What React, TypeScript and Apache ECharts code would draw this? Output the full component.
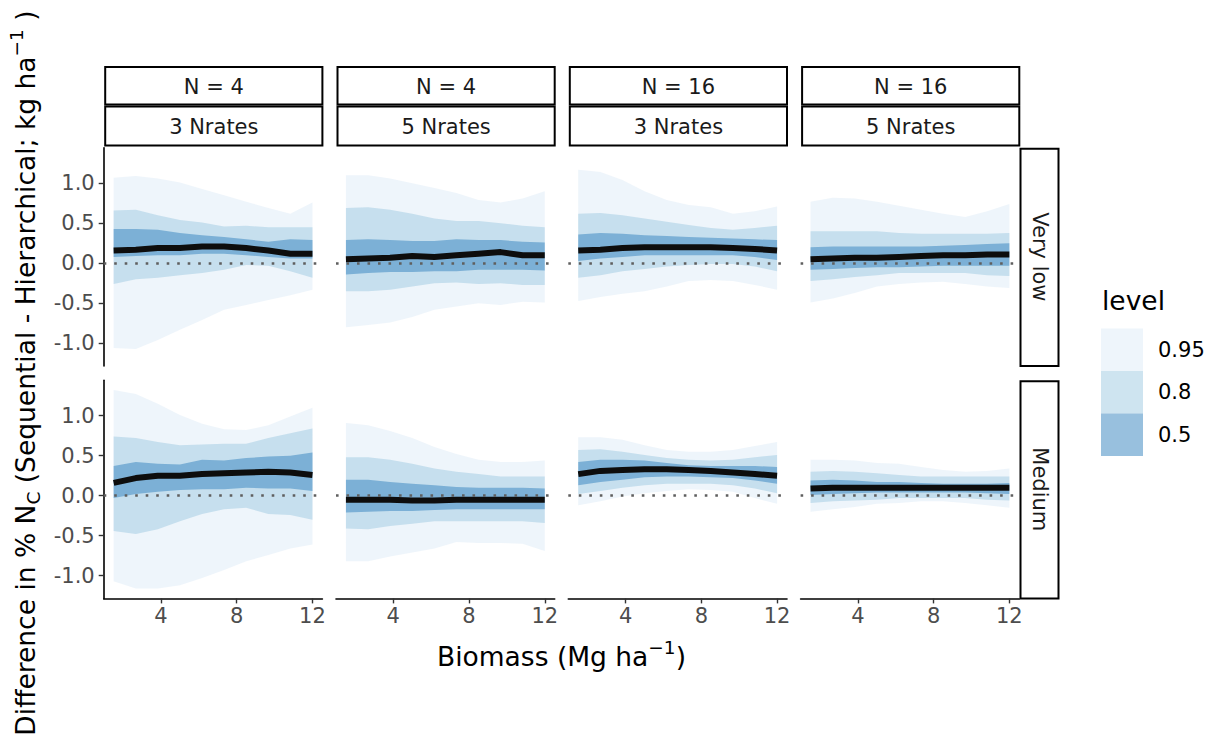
import React, { useEffect, useRef } from "react";
import * as echarts from "echarts";

// ---------- data ----------
const X = [1.5, 2.67, 3.83, 5, 6.17, 7.33, 8.5, 9.67, 10.83, 12];
const X_TICKS = [4, 8, 12];
const Y_TICKS = [-1, -0.5, 0, 0.5, 1];
const X_MIN = 0.975;
const X_MAX = 12.525;
const Y_MIN = -1.284;
const Y_MAX = 1.444;

const STRIP_N = ["N = 4", "N = 4", "N = 16", "N = 16"];
const STRIP_RATES = ["3 Nrates", "5 Nrates", "3 Nrates", "5 Nrates"];
const STRIP_ROWS = ["Very low", "Medium"];
const LEVELS = ["0.95", "0.8", "0.5"];

// Very low, N = 4, 3 Nrates
const P1_HI95 = [1.07, 1.09, 1.06, 1.01, 0.93, 0.85, 0.77, 0.69, 0.62, 0.76];
const P1_LO95 = [-1.06, -1.07, -0.96, -0.83, -0.71, -0.58, -0.52, -0.46, -0.4, -0.33];
const P1_HI80 = [0.66, 0.67, 0.6, 0.54, 0.51, 0.46, 0.47, 0.45, 0.45, 0.45];
const P1_LO80 = [-0.26, -0.2, -0.18, -0.15, -0.12, -0.08, -0.02, -0.03, -0.1, -0.18];
const P1_HI50 = [0.43, 0.43, 0.42, 0.38, 0.35, 0.33, 0.3, 0.27, 0.3, 0.29];
const P1_LO50 = [0.08, 0.09, 0.1, 0.1, 0.12, 0.12, 0.1, 0.08, 0.06, 0.06];
const P1_MED = [0.16, 0.17, 0.19, 0.19, 0.21, 0.21, 0.19, 0.16, 0.12, 0.12];

// Very low, N = 4, 5 Nrates
const P2_HI95 = [1.1, 1.1, 1.06, 1.0, 0.94, 0.88, 0.79, 0.76, 0.81, 0.9];
const P2_LO95 = [-0.8, -0.77, -0.74, -0.67, -0.58, -0.54, -0.5, -0.52, -0.48, -0.49];
const P2_HI80 = [0.69, 0.7, 0.67, 0.62, 0.56, 0.53, 0.53, 0.5, 0.47, 0.45];
const P2_LO80 = [-0.35, -0.35, -0.33, -0.29, -0.25, -0.24, -0.26, -0.25, -0.27, -0.27];
const P2_HI50 = [0.29, 0.3, 0.29, 0.28, 0.28, 0.3, 0.29, 0.29, 0.27, 0.26];
const P2_LO50 = [-0.14, -0.12, -0.11, -0.11, -0.1, -0.1, -0.08, -0.08, -0.08, -0.09];
const P2_MED = [0.05, 0.06, 0.07, 0.09, 0.08, 0.1, 0.12, 0.14, 0.1, 0.1];

// Very low, N = 16, 3 Nrates
const P3_HI95 = [1.17, 1.14, 1.04, 0.9, 0.79, 0.73, 0.7, 0.62, 0.65, 0.71];
const P3_LO95 = [-0.47, -0.42, -0.38, -0.35, -0.29, -0.22, -0.21, -0.22, -0.27, -0.33];
const P3_HI80 = [0.62, 0.63, 0.6, 0.56, 0.52, 0.48, 0.44, 0.42, 0.44, 0.47];
const P3_LO80 = [-0.18, -0.15, -0.1, -0.07, -0.04, -0.02, -0.01, -0.01, -0.04, -0.1];
const P3_HI50 = [0.36, 0.38, 0.37, 0.35, 0.34, 0.33, 0.32, 0.31, 0.3, 0.29];
const P3_LO50 = [0.03, 0.06, 0.08, 0.1, 0.1, 0.1, 0.1, 0.1, 0.08, 0.04];
const P3_MED = [0.16, 0.17, 0.19, 0.2, 0.2, 0.2, 0.2, 0.19, 0.18, 0.16];

// Very low, N = 16, 5 Nrates
const P4_HI95 = [0.77, 0.82, 0.81, 0.77, 0.72, 0.67, 0.62, 0.58, 0.65, 0.74];
const P4_LO95 = [-0.49, -0.44, -0.37, -0.29, -0.26, -0.24, -0.23, -0.26, -0.29, -0.31];
const P4_HI80 = [0.4, 0.4, 0.4, 0.4, 0.38, 0.37, 0.37, 0.37, 0.37, 0.38];
const P4_LO80 = [-0.22, -0.2, -0.17, -0.15, -0.12, -0.12, -0.12, -0.12, -0.15, -0.16];
const P4_HI50 = [0.2, 0.21, 0.21, 0.21, 0.21, 0.21, 0.22, 0.23, 0.24, 0.25];
const P4_LO50 = [-0.08, -0.07, -0.06, -0.05, -0.05, -0.04, -0.03, -0.03, -0.03, -0.03];
const P4_MED = [0.05, 0.06, 0.07, 0.07, 0.08, 0.09, 0.1, 0.1, 0.11, 0.11];

// Medium, N = 4, 3 Nrates
const P5_HI95 = [1.32, 1.27, 1.15, 1.01, 0.9, 0.83, 0.82, 0.88, 0.99, 1.1];
const P5_LO95 = [-1.07, -1.16, -1.16, -1.12, -1.03, -0.93, -0.82, -0.74, -0.66, -0.61];
const P5_HI80 = [0.74, 0.72, 0.67, 0.63, 0.64, 0.65, 0.65, 0.72, 0.78, 0.84];
const P5_LO80 = [-0.44, -0.48, -0.42, -0.32, -0.23, -0.17, -0.15, -0.23, -0.24, -0.3];
const P5_HI50 = [0.37, 0.42, 0.4, 0.39, 0.45, 0.44, 0.47, 0.49, 0.5, 0.54];
const P5_LO50 = [-0.03, 0.02, 0.05, 0.07, 0.08, 0.08, 0.1, 0.09, 0.09, 0.06];
const P5_MED = [0.16, 0.22, 0.25, 0.25, 0.27, 0.28, 0.29, 0.3, 0.29, 0.26];

// Medium, N = 4, 5 Nrates
const P6_HI95 = [0.91, 0.88, 0.81, 0.72, 0.61, 0.52, 0.45, 0.42, 0.42, 0.44];
const P6_LO95 = [-0.82, -0.82, -0.76, -0.71, -0.66, -0.58, -0.59, -0.59, -0.6, -0.69];
const P6_HI80 = [0.48, 0.48, 0.45, 0.4, 0.34, 0.3, 0.27, 0.24, 0.24, 0.24];
const P6_LO80 = [-0.41, -0.42, -0.38, -0.35, -0.32, -0.32, -0.32, -0.32, -0.32, -0.34];
const P6_HI50 = [0.2, 0.2, 0.17, 0.15, 0.13, 0.11, 0.1, 0.1, 0.1, 0.09];
const P6_LO50 = [-0.21, -0.2, -0.19, -0.19, -0.18, -0.17, -0.17, -0.17, -0.17, -0.17];
const P6_MED = [-0.05, -0.05, -0.05, -0.06, -0.06, -0.05, -0.05, -0.05, -0.05, -0.05];

// Medium, N = 16, 3 Nrates
const P7_HI95 = [0.73, 0.73, 0.7, 0.63, 0.57, 0.55, 0.55, 0.57, 0.62, 0.67];
const P7_LO95 = [-0.12, -0.07, -0.01, 0.03, 0.06, 0.08, 0.07, 0.05, -0.03, -0.1];
const P7_HI80 = [0.57, 0.58, 0.55, 0.51, 0.47, 0.45, 0.44, 0.45, 0.48, 0.51];
const P7_LO80 = [0.02, 0.06, 0.1, 0.13, 0.15, 0.15, 0.15, 0.13, 0.09, 0.03];
const P7_HI50 = [0.42, 0.45, 0.45, 0.44, 0.41, 0.38, 0.37, 0.37, 0.37, 0.36];
const P7_LO50 = [0.13, 0.17, 0.2, 0.23, 0.24, 0.24, 0.23, 0.22, 0.19, 0.15];
const P7_MED = [0.27, 0.31, 0.32, 0.33, 0.33, 0.32, 0.31, 0.29, 0.27, 0.25];

// Medium, N = 16, 5 Nrates
const P8_HI95 = [0.45, 0.45, 0.44, 0.41, 0.4, 0.36, 0.32, 0.3, 0.31, 0.34];
const P8_LO95 = [-0.2, -0.17, -0.14, -0.1, -0.09, -0.07, -0.07, -0.09, -0.12, -0.15];
const P8_HI80 = [0.3, 0.31, 0.3, 0.28, 0.26, 0.24, 0.24, 0.24, 0.24, 0.24];
const P8_LO80 = [-0.09, -0.07, -0.06, -0.05, -0.03, -0.03, -0.03, -0.03, -0.05, -0.06];
const P8_HI50 = [0.19, 0.2, 0.19, 0.17, 0.17, 0.16, 0.15, 0.15, 0.15, 0.16];
const P8_LO50 = [0.01, 0.02, 0.03, 0.04, 0.04, 0.04, 0.04, 0.04, 0.03, 0.02];
const P8_MED = [0.09, 0.1, 0.1, 0.1, 0.1, 0.1, 0.1, 0.1, 0.1, 0.1];

// ---------- layout & style ----------
const FONT = "'DejaVu Sans', 'Noto Sans', sans-serif";
const LEFTS = [103.7, 336.0, 568.3, 800.6];
const TOPS = [147.8, 380.2];
const PW = 218.7;
const PH = 218.2;
const BAND_COLORS = [
  "rgba(222,235,247,0.5)",
  "rgba(158,202,225,0.5)",
  "rgba(49,130,189,0.5)",
];

function buildOption() {
  const panels = [
    [P1_LO95, P1_HI95, P1_LO80, P1_HI80, P1_LO50, P1_HI50, P1_MED],
    [P2_LO95, P2_HI95, P2_LO80, P2_HI80, P2_LO50, P2_HI50, P2_MED],
    [P3_LO95, P3_HI95, P3_LO80, P3_HI80, P3_LO50, P3_HI50, P3_MED],
    [P4_LO95, P4_HI95, P4_LO80, P4_HI80, P4_LO50, P4_HI50, P4_MED],
    [P5_LO95, P5_HI95, P5_LO80, P5_HI80, P5_LO50, P5_HI50, P5_MED],
    [P6_LO95, P6_HI95, P6_LO80, P6_HI80, P6_LO50, P6_HI50, P6_MED],
    [P7_LO95, P7_HI95, P7_LO80, P7_HI80, P7_LO50, P7_HI50, P7_MED],
    [P8_LO95, P8_HI95, P8_LO80, P8_HI80, P8_LO50, P8_HI50, P8_MED],
  ];
  const grid: any[] = [];
  const xAxis: any[] = [];
  const yAxis: any[] = [];
  const series: any[] = [];
  const axisLineStyle = { color: "#000", width: 1.6 };
  const tickStyle = { color: "#333", width: 1.4 };

  panels.forEach((p, i) => {
    const col = i % 4;
    const row = Math.floor(i / 4);
    grid.push({
      left: LEFTS[col],
      top: TOPS[row],
      width: PW,
      height: PH,
      containLabel: false,
      outerBoundsMode: "none",
    });
    xAxis.push({
      gridIndex: i,
      type: "value",
      min: X_MIN,
      max: X_MAX,
      axisLine: { show: row === 1, onZero: false, lineStyle: axisLineStyle },
      axisTick: { show: row === 1, customValues: X_TICKS, length: 5, lineStyle: tickStyle },
      axisLabel: {
        show: row === 1,
        customValues: X_TICKS,
        fontSize: 21,
        color: "#4d4d4d",
        fontFamily: FONT,
        margin: 7,
      },
      splitLine: { show: false },
    });
    yAxis.push({
      gridIndex: i,
      type: "value",
      min: Y_MIN,
      max: Y_MAX,
      axisLine: { show: col === 0, onZero: false, lineStyle: axisLineStyle },
      axisTick: { show: col === 0, customValues: Y_TICKS, length: 5, lineStyle: tickStyle },
      axisLabel: {
        show: col === 0,
        customValues: Y_TICKS,
        formatter: (v: number) => v.toFixed(1),
        fontSize: 21,
        color: "#4d4d4d",
        fontFamily: FONT,
        margin: 9,
      },
      splitLine: { show: false },
    });

    for (let b = 0; b < 3; b++) {
      const lo = p[b * 2];
      const hi = p[b * 2 + 1];
      const color = BAND_COLORS[b];
      series.push({
        type: "custom",
        name: LEVELS[b],
        xAxisIndex: i,
        yAxisIndex: i,
        z: 2 + b,
        silent: true,
        data: X.map((x, k) => [x, lo[k], hi[k]]),
        encode: { x: 0, y: [1, 2] },
        renderItem: (params: any, api: any) => {
          if (params.dataIndex !== 0) return null;
          const pts: number[][] = [];
          for (let k = 0; k < X.length; k++) pts.push(api.coord([X[k], hi[k]]));
          for (let k = X.length - 1; k >= 0; k--) pts.push(api.coord([X[k], lo[k]]));
          return { type: "polygon", shape: { points: pts }, style: { fill: color } };
        },
      });
    }
    series.push({
      type: "line",
      xAxisIndex: i,
      yAxisIndex: i,
      z: 6,
      silent: true,
      symbol: "none",
      data: X.map((x, k) => [x, p[6][k]]),
      lineStyle: { color: "#0d0d0d", width: 6, cap: "butt", join: "round" },
    });
    series.push({
      type: "line",
      xAxisIndex: i,
      yAxisIndex: i,
      z: 8,
      silent: true,
      symbol: "none",
      data: [],
      markLine: {
        silent: true,
        symbol: "none",
        label: { show: false },
        lineStyle: { color: "#5f5f5f", width: 2.6, type: [2.6, 7.9], cap: "butt" },
        data: [{ yAxis: 0 }],
        z: 8,
      },
    });
  });

  const graphic: any[] = [];
  const strip = (x: number, y: number, w: number, h: number) => ({
    type: "rect",
    shape: { x, y, width: w, height: h },
    style: { fill: "#fff", stroke: "#000", lineWidth: 2 },
    silent: true,
  });
  const label = (text: string, x: number, y: number, size: number, fill: string, rotation = 0) => ({
    type: "text",
    x,
    y,
    rotation,
    silent: true,
    style: {
      text,
      fill,
      fontSize: size,
      fontFamily: FONT,
      align: "center",
      verticalAlign: "middle",
    },
  });
  for (let c = 0; c < 4; c++) {
    const x0 = LEFTS[c] + 1.5;
    const w = PW - 1.5;
    graphic.push(strip(x0, 67, w, 37.5));
    graphic.push(strip(x0, 106.5, w, 39));
    graphic.push(label(STRIP_N[c], x0 + w / 2, 86.5, 21, "#1a1a1a"));
    graphic.push(label(STRIP_RATES[c], x0 + w / 2, 127, 21, "#1a1a1a"));
  }
  for (let r = 0; r < 2; r++) {
    graphic.push(strip(1020.5, TOPS[r] + 1, 38, PH - 1));
    graphic.push(label(STRIP_ROWS[r], 1039.5, TOPS[r] + PH / 2, 21, "#1a1a1a", -Math.PI / 2));
  }
  // legend
  graphic.push({
    type: "text",
    x: 1102,
    y: 300,
    silent: true,
    style: { text: "level", fill: "#000", fontSize: 26.5, fontFamily: FONT, align: "left", verticalAlign: "middle" },
  });
  for (let b = 0; b < 3; b++) {
    graphic.push({
      type: "rect",
      shape: { x: 1101, y: 328.5 + b * 42.5, width: 42, height: 42.5 },
      style: { fill: BAND_COLORS[b] },
      silent: true,
    });
    graphic.push({
      type: "text",
      x: 1158,
      y: 349.5 + b * 42.5,
      silent: true,
      style: { text: LEVELS[b], fill: "#000", fontSize: 21, fontFamily: FONT, align: "left", verticalAlign: "middle" },
    });
  }
  const rich = {
    a: { fontSize: 26.5, fontFamily: FONT, fill: "#000", color: "#000", lineHeight: 36, verticalAlign: "middle" },
    sub: { fontSize: 18.5, fontFamily: FONT, fill: "#000", color: "#000", lineHeight: 18, verticalAlign: "bottom" },
    sup: { fontSize: 18.5, fontFamily: FONT, fill: "#000", color: "#000", lineHeight: 18, verticalAlign: "top" },
  };
  // x title
  graphic.push({
    type: "text",
    x: 561.5,
    y: 656,
    silent: true,
    style: {
      text: "{a|Biomass (Mg ha}{sup|\u22121}{a|)}",
      rich,
      align: "center",
      verticalAlign: "middle",
    },
  });
  // y title
  graphic.push({
    type: "text",
    x: 25,
    y: 373,
    rotation: Math.PI / 2,
    silent: true,
    style: {
      text: "{a|Difference in % N}{sub|C}{a| (Sequential - Hierarchical; kg ha}{sup|\u22121}{a| )}",
      rich,
      align: "center",
      verticalAlign: "middle",
    },
  });

  return {
    animation: false,
    backgroundColor: "#fff",
    textStyle: { fontFamily: FONT },
    grid,
    xAxis,
    yAxis,
    series,
    graphic,
  };
}

export default function App() {
  const ref = useRef<HTMLDivElement>(null);
  useEffect(() => {
    if (!ref.current) return;
    const chart = echarts.init(ref.current, undefined, { renderer: "svg" });
    chart.setOption(buildOption() as any);
    return () => chart.dispose();
  }, []);
  return (
    <div
      ref={ref}
      style={{ position: "fixed", left: 0, top: 0, width: 1214, height: 746, background: "#fff" }}
    />
  );
}
